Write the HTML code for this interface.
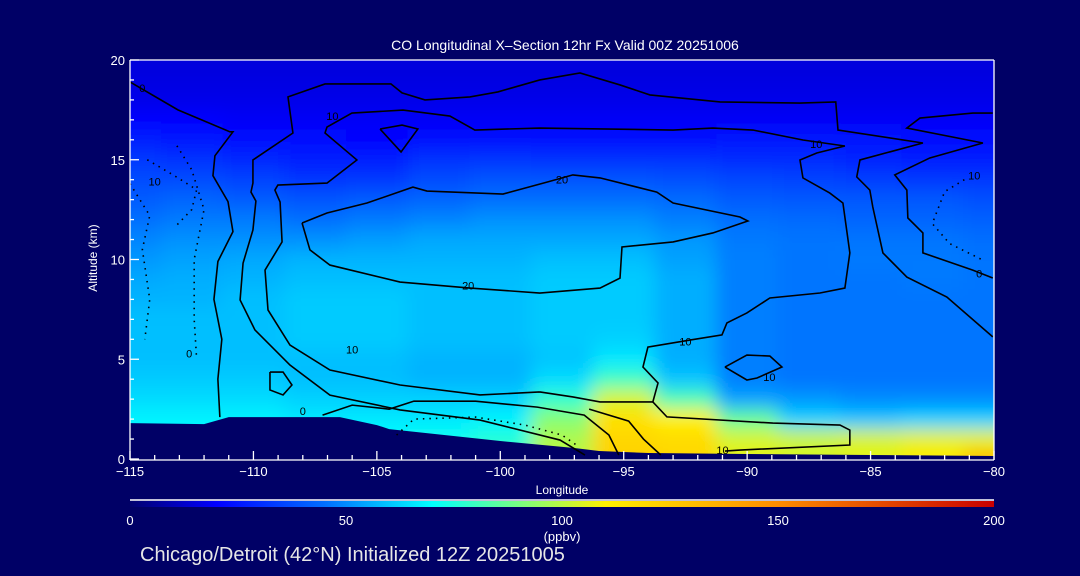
<!DOCTYPE html>
<html><head><meta charset="utf-8"><style>
html,body{margin:0;padding:0;background:#000066;}
svg{display:block;}
text{font-family:"Liberation Sans",sans-serif;fill:#fff;}
</style></head><body>
<svg id="chart" width="1080" height="576" viewBox="0 0 1080 576" xmlns="http://www.w3.org/2000/svg">
<defs>
<clipPath id="plotclip"><rect x="130" y="60" width="864" height="399"/></clipPath>
<filter id="blur" x="-10%" y="-10%" width="120%" height="120%"><feGaussianBlur stdDeviation="9"/></filter>
<linearGradient id="cbgrad" x1="0" x2="1" y1="0" y2="0">
<stop offset="0" stop-color="#00006e"/><stop offset="0.1" stop-color="#0000ff"/><stop offset="0.225" stop-color="#006eff"/><stop offset="0.35" stop-color="#00ffff"/><stop offset="0.45" stop-color="#78ff82"/><stop offset="0.55" stop-color="#fff000"/><stop offset="0.75" stop-color="#ff8c00"/><stop offset="1" stop-color="#c80000"/>
</linearGradient>
</defs>
<rect x="0" y="0" width="1080" height="576" fill="#000066"/>
<text x="565" y="50" font-size="14" text-anchor="middle">CO Longitudinal X–Section 12hr  Fx Valid 00Z 20251006</text>
<g id="field" clip-path="url(#plotclip)"><g id="cells" filter="url(#blur)"></g></g>
<g id="terrain-g" clip-path="url(#plotclip)"></g>
<g id="contours" clip-path="url(#plotclip)"></g>
<g id="axes"></g>
<text x="562" y="494" font-size="12" text-anchor="middle">Longitude</text>
<text x="97" y="258" font-size="12" text-anchor="middle" transform="rotate(-90 97 258)">Altitude (km)</text>
<line x1="130" y1="500" x2="994" y2="500" stroke="#fff" stroke-width="1.5"/>
<rect x="130" y="501" width="864" height="6" fill="url(#cbgrad)"/>
<g id="cbticks"></g>
<text x="562" y="541" font-size="13" text-anchor="middle">(ppbv)</text>
<text x="140" y="561" font-size="20" style="fill:#e6e6e6">Chicago/Detroit (42°N) Initialized 12Z 20251005</text>
</svg>
<script>
const lons=[-115,-112.5,-110,-107.5,-105,-102.5,-100,-97.5,-95,-92.5,-90,-87.5,-85,-82.5,-80];
const alts=[20,19,18,17,16,15,14,13,12,11,10,9,8,7,6,5,4,3,2,1,0];
const values=[
[15,15,15,15,15,15,15,15,15,15,15,15,15,15,15],
[16,16,16,16,16,16,16,16,16,16,16,16,16,16,16],
[17,17,17,17,17,17,17,17,17,17,17,17,17,17,17],
[21,20,19,19,19,19,19,19,19,19,19,19,19,19,19],
[27,25,23,22,21,23,23,22,22,23,25,25,24,23,23],
[33,31,29,27,27,31,32,31,31,31,30,30,28,27,27],
[37,37,35,32,33,37,39,39,39,38,36,35,34,33,33],
[41,43,41,39,41,43,45,45,45,44,41,40,40,40,38],
[45,47,47,45,47,49,51,51,51,48,45,44,43,43,42],
[49,51,51,51,53,55,55,55,55,52,47,46,46,46,45],
[52,54,55,57,57,57,57,59,59,54,48,46,47,47,46],
[55,56,57,59,59,59,59,61,61,56,48,46,46,47,46],
[57,57,59,61,61,59,59,61,61,56,48,46,46,46,46],
[59,59,59,61,61,59,59,61,61,56,48,46,46,46,46],
[59,59,59,61,61,59,59,61,62,56,48,46,46,46,46],
[59,59,59,59,59,57,57,60,66,56,48,46,46,46,46],
[61,61,61,59,59,57,57,64,80,60,48,46,46,46,46],
[64,64,64,62,62,62,62,78,104,82,54,52,50,50,50],
[68,68,68,66,66,66,68,92,116,110,86,62,60,62,62],
[70,70,70,70,70,72,76,98,120,118,104,102,104,106,106],
[70,70,70,70,70,74,80,100,122,120,106,104,106,112,130]];
const terrainLon=[-115,-112,-111,-106.5,-105,-104.5,-100,-97,-96,-94,-90,-85,-80];
const terrainAlt=[1.8,1.75,2.1,2.1,1.7,1.5,0.9,0.55,0.4,0.3,0.25,0.2,0.15];
const xTicks=[-115,-110,-105,-100,-95,-90,-85,-80];
const xTickLabels=["−115","−110","−105","−100","−95","−90","−85","−80"];
const yTicks=[0,5,10,15,20];
const yTickLabels=["0","5","10","15","20"];
const cbTicks=[0,50,100,150,200];
const cbLabels=["0","50","100","150","200"];
const contourLines=[
{dash:false,pts:[[-115,18.9],[-113.06,17.5],[-110.95,16.4],[-110.83,16.4],[-111.56,15.2],[-111.64,14.2],[-111.03,12.9],[-110.83,11.4],[-111.44,9.9],[-111.6,8.0],[-111.28,6.0],[-111.44,4.0],[-111.36,2.1]]},
{dash:false,pts:[[-96.57,0.2],[-97.58,0.95],[-100.82,1.95],[-104.06,2.46],[-106.9,3.2],[-108.52,4.71],[-109.94,6.47],[-110.54,7.97],[-110.42,9.82],[-110.02,11.48],[-109.9,12.93],[-110.1,13.38],[-110.02,13.83],[-110.02,14.99],[-108.4,16.34],[-108.6,18.15],[-107.1,18.8],[-104.43,18.8],[-103.98,18.35],[-103.05,18.0],[-101.23,18.15],[-100.1,18.4],[-98.4,19.0],[-96.77,19.35],[-95.15,18.75],[-93.94,18.25],[-91.1,17.9],[-87.86,17.84],[-86.41,17.9],[-86.32,16.49],[-82.88,15.84],[-85.43,14.99],[-85.56,14.14],[-85.03,13.48],[-84.91,12.63],[-84.5,10.33],[-83.53,9.12],[-81.91,8.12],[-80.05,6.12]]},
{dash:false,pts:[[-108.03,11.83],[-107.02,12.33],[-105.4,12.83],[-103.54,13.63],[-102.97,13.43],[-99.89,13.28],[-98.11,13.88],[-97.06,14.24],[-95.96,14.09],[-93.66,13.38],[-93.0,12.83],[-90.29,12.13],[-89.97,11.93],[-91.39,11.33],[-93.0,10.88],[-95.07,10.63],[-95.15,9.07],[-95.96,8.57],[-98.4,8.32],[-101.23,8.57],[-104.06,8.87],[-106.9,9.72],[-107.71,10.48],[-108.03,11.83]]},
{dash:false,pts:[[-98.4,3.36],[-100.82,3.21],[-104.06,3.71],[-106.9,4.46],[-108.52,5.71],[-109.41,7.47],[-109.53,9.47],[-108.84,10.88],[-108.92,12.88],[-109.13,13.48],[-109.01,13.73],[-107.02,13.83],[-105.81,14.99],[-107.1,16.34],[-107.02,16.64],[-106.01,17.34],[-103.94,17.49],[-102.04,17.19],[-101.03,16.49],[-98.4,16.59],[-93.0,16.49],[-91.39,16.59],[-89.77,16.49],[-87.74,15.99],[-86.04,15.69],[-87.18,15.34],[-87.86,14.99],[-87.74,14.09],[-86.65,13.33],[-86.12,12.83],[-85.84,10.33],[-86.04,8.57],[-87.05,8.32],[-89.08,8.07],[-90.01,7.32],[-90.82,6.82],[-91.02,6.22],[-92.32,5.96],[-94.02,5.61],[-94.22,4.61],[-93.61,3.81],[-93.82,2.86],[-95.96,2.86],[-97.06,3.11],[-98.4,3.36]]},
{dash:false,pts:[[-93.82,2.86],[-93.25,2.11],[-88.96,1.8],[-86.24,1.7],[-85.84,1.45],[-85.84,0.7],[-90.29,0.45],[-90.9,0.4]]},
{dash:false,pts:[[-80.05,17.34],[-80.86,17.34],[-83.0,17.09],[-83.53,16.59],[-80.45,15.84],[-82.6,15.09],[-84.02,14.24],[-83.53,13.48],[-83.49,12.08],[-82.88,11.33],[-82.88,10.33],[-80.86,9.47],[-80.05,9.07]]},
{dash:false,pts:[[-90.9,4.61],[-90.01,5.21],[-89.08,5.16],[-88.59,4.61],[-89.6,4.06],[-90.01,3.96],[-90.9,4.61]]},
{dash:false,pts:[[-104.87,16.54],[-103.98,16.74],[-103.34,16.54],[-104.02,15.39],[-104.87,16.54]]},
{dash:false,pts:[[-109.33,4.36],[-108.8,4.36],[-108.44,3.71],[-108.8,3.21],[-109.33,3.46],[-109.33,4.36]]},
{dash:false,pts:[[-95.2,0.2],[-95.6,1.2],[-96.6,2.2],[-98.5,2.6],[-101,2.9],[-103.5,2.9],[-104.5,2.5],[-106,2.7],[-107.2,2.2]]},
{dash:false,pts:[[-93.5,0.2],[-94.2,1.0],[-94.8,1.9],[-96.4,2.5]]},
{dash:true,pts:[[-114.3,15.0],[-113.2,14.2],[-112.3,13.5],[-112.5,12.5],[-113.2,11.6]]},
{dash:true,pts:[[-113.1,15.7],[-112.5,14.5],[-112.0,12.5],[-112.4,10.0],[-112.4,7.0],[-112.3,5.0]]},
{dash:true,pts:[[-115,13.8],[-114.2,12.2],[-114.5,10.5],[-114.2,8.0],[-114.4,6.0]]},
{dash:true,pts:[[-104.2,1.2],[-103.5,2.0],[-101,2.1],[-99,1.7],[-97.5,1.2],[-96.8,0.6]]},
{dash:true,pts:[[-81.2,14.0],[-82.0,13.4],[-82.5,11.8],[-81.8,10.8],[-80.5,10.0]]}
];
const contourLabels=[["0",-114.5,18.6],["10",-114,13.9],["10",-106.8,17.2],["20",-97.5,14.0],["10",-87.2,15.8],["20",-101.3,8.7],["10",-106.0,5.5],["10",-92.5,5.9],["10",-89.1,4.1],["10",-91,0.45],["0",-80.6,9.3],["10",-80.8,14.2],["0",-108,2.4],["0",-112.6,5.3]];

const X0=130,X1=994,Y0=459,Y1=60;
function xs(lon){return X0+(lon+115)/35*(X1-X0);}
function ys(a){return Y0-a/20*(Y0-Y1);}
const stops=[[0,[0,0,110]],[20,[0,0,255]],[45,[0,110,255]],[70,[0,255,255]],[90,[120,255,130]],[110,[255,240,0]],[150,[255,140,0]],[200,[200,0,0]]];
function color(v){
  for(let i=1;i<stops.length;i++){
    if(v<=stops[i][0]){const a=stops[i-1],b=stops[i];const t=(v-a[0])/(b[0]-a[0]);
      const c=a[1].map((q,k)=>Math.round(q+(b[1][k]-q)*t));return `rgb(${c[0]},${c[1]},${c[2]})`;}
  }
  return 'rgb(200,0,0)';
}
const NS='http://www.w3.org/2000/svg';
const cells=document.getElementById('cells');
const dx=(xs(-112.5)-xs(-115)),dy=(ys(0)-ys(1));
for(let r=0;r<alts.length;r++){for(let c=0;c<lons.length;c++){
  const rc=document.createElementNS(NS,'rect');
  let x=xs(lons[c])-dx/2,w=dx,y=ys(alts[r])-dy/2,h=dy;
  if(c===0){x-=40;w+=40;} if(c===lons.length-1){w+=40;}
  if(r===0){y-=40;h+=40;} if(r===alts.length-1){h+=40;}
  rc.setAttribute('x',x);rc.setAttribute('y',y);rc.setAttribute('width',w+1);rc.setAttribute('height',h+1);
  rc.setAttribute('fill',color(values[r][c]));
  
  
  cells.appendChild(rc);
}}
let d='M'+xs(terrainLon[0])+','+ys(0);
for(let i=0;i<terrainLon.length;i++)d+=' L'+xs(terrainLon[i])+','+ys(terrainAlt[i]);
d+=' L'+xs(-80)+','+(Y0+2)+' L'+xs(-115)+','+(Y0+2)+'Z';
const tp=document.createElementNS(NS,'path');
tp.setAttribute('d',d);tp.setAttribute('fill','#000066');


document.getElementById('terrain-g').appendChild(tp);
const cg=document.getElementById('contours');
contourLines.forEach(l=>{
  const p=document.createElementNS(NS,'polyline');
  p.setAttribute('points',l.pts.map(q=>xs(q[0])+','+ys(q[1])).join(' '));
  p.setAttribute('fill','none');p.setAttribute('stroke','#000');p.setAttribute('stroke-width',1.6);
  if(l.dash){p.setAttribute('stroke-dasharray','1.5 5');}
  
  
  cg.appendChild(p);
});
contourLabels.forEach(l=>{
  const t=document.createElementNS(NS,'text');
  t.setAttribute('x',xs(l[1]));t.setAttribute('y',ys(l[2])+4);t.setAttribute('font-size','11');
  t.setAttribute('text-anchor','middle');t.setAttribute('style','fill:#000');
  t.textContent=l[0];
  
  
  cg.appendChild(t);
});
const ag=document.getElementById('axes');
function line(x1,y1,x2,y2,name){const l=document.createElementNS(NS,'line');
  l.setAttribute('x1',x1);l.setAttribute('y1',y1);l.setAttribute('x2',x2);l.setAttribute('y2',y2);
  l.setAttribute('stroke','#fff');l.setAttribute('stroke-width','1.3');
  
  
  ag.appendChild(l);}
line(X0,Y0+1,X1,Y0+1,'x-axis');line(X0,Y1,X1,Y1,'top-axis');line(X0,Y1,X0,Y0+1,'y-axis');line(X1,Y1,X1,Y0+1,'right-axis');
for(let v=-115;v<=-80;v++){const major=v%5===0;line(xs(v),Y0+1,xs(v),Y0+1-(major?9:5),'x-tick');}
for(let v=0;v<=20;v++){const major=v%5===0;line(X0,ys(v),X0+(major?9:4),ys(v),'y-tick');}
xTicks.forEach((v,i)=>{const t=document.createElementNS(NS,'text');
  t.setAttribute('x',xs(v));t.setAttribute('y',Y0+17);t.setAttribute('font-size','13');t.setAttribute('text-anchor','middle');
  t.textContent=xTickLabels[i];
  
  
  ag.appendChild(t);});
yTicks.forEach((v,i)=>{const t=document.createElementNS(NS,'text');
  t.setAttribute('x',X0-5);t.setAttribute('y',ys(v)+5);t.setAttribute('font-size','13');t.setAttribute('text-anchor','end');
  t.textContent=yTickLabels[i];
  
  
  ag.appendChild(t);});
const cbg=document.getElementById('cbticks');
cbTicks.forEach((v,i)=>{const t=document.createElementNS(NS,'text');
  t.setAttribute('x',X0+v/200*(X1-X0));t.setAttribute('y',525);t.setAttribute('font-size','13');t.setAttribute('text-anchor','middle');
  t.textContent=cbLabels[i];
  
  
  cbg.appendChild(t);});
</script>
</body></html>
